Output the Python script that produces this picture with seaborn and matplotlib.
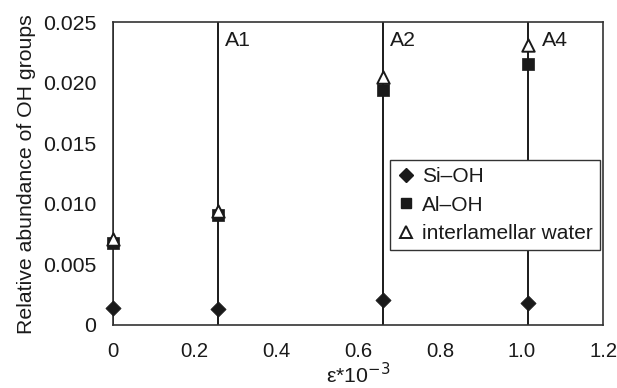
import matplotlib
matplotlib.use("Agg")
import matplotlib.pyplot as plt
import seaborn as sns
import pandas as pd
from matplotlib.lines import Line2D

# Data
strain = [0.0, 0.257, 0.66, 1.015]
sample_labels = ["", "A1", "A2", "A4"]
si_oh = [0.00138, 0.0013, 0.00206, 0.0018]
al_oh = [0.0068, 0.0091, 0.0194, 0.0216]
water = [0.0071, 0.0094, 0.0205, 0.0231]
series_names = ["Si\u2013OH", "Al\u2013OH", "interlamellar water"]
xticks = [0, 0.2, 0.4, 0.6, 0.8, 1.0, 1.2]
xtick_labels = ["0", "0.2", "0.4", "0.6", "0.8", "1.0", "1.2"]
yticks = [0, 0.005, 0.010, 0.015, 0.020, 0.025]
ytick_labels = ["0", "0.005", "0.010", "0.015", "0.020", "0.025"]

FS = 15.3
sns.set_style("white")
plt.rcParams["font.family"] = ["Liberation Sans", "DejaVu Sans"]
plt.rcParams["font.size"] = FS
plt.rcParams["text.color"] = "#1a1a1a"
plt.rcParams["axes.labelcolor"] = "#1a1a1a"
plt.rcParams["xtick.labelcolor"] = "#1a1a1a"
plt.rcParams["ytick.labelcolor"] = "#1a1a1a"

df = pd.DataFrame({
    "strain": strain * 3,
    "value": si_oh + al_oh + water,
    "series": [series_names[0]] * 4 + [series_names[1]] * 4 + [series_names[2]] * 4,
})

fig = plt.figure(figsize=(6.17, 3.88), dpi=100)
ax = fig.add_axes([0.183, 0.1624, 0.795, 0.780])

lc = "#1a1a1a"
label_offset = {"A1": 0.017, "A2": 0.017, "A4": 0.035}
for xv, lab in zip(strain, sample_labels):
    ax.axvline(xv, color=lc, lw=1.4, zorder=1)
    if lab:
        ax.text(xv + label_offset[lab], 0.0235, lab, fontsize=FS, ha="left", va="center", color=lc)

styles = {
    series_names[0]: dict(marker="D", s=60, color=lc, edgecolor=lc, linewidth=0.5),
    series_names[1]: dict(marker="s", s=65, color=lc, edgecolor=lc, linewidth=0.5),
    series_names[2]: dict(marker="^", s=80, color="white", edgecolor=lc, linewidth=1.4),
}
for name in series_names:
    sub = df[df["series"] == name]
    sns.scatterplot(data=sub, x="strain", y="value", ax=ax, zorder=3, legend=False,
                    clip_on=False, **styles[name])

ax.set_xlim(0, 1.2)
ax.set_ylim(0, 0.025)
ax.set_xticks(xticks)
ax.set_xticklabels(xtick_labels)
ax.set_yticks(yticks)
ax.set_yticklabels(ytick_labels)
ax.tick_params(axis="x", direction="in", length=7, width=1.2, color="#555555", labelsize=14.6, pad=12)
ax.tick_params(axis="y", direction="out", length=8, width=1.2, color="#555555", labelsize=FS, pad=4)
for sp in ax.spines.values():
    sp.set_color("#333333")
    sp.set_linewidth(1.2)
    sp.set_visible(True)

ax.set_xlabel("\u03b5*10$^{-3}$", fontsize=FS, labelpad=1)
ax.set_ylabel("Relative abundance of OH groups", fontsize=FS, labelpad=5)

handles = [
    Line2D([], [], ls="none", marker="D", ms=7.5, mfc=lc, mec=lc),
    Line2D([], [], ls="none", marker="s", ms=7.5, mfc=lc, mec=lc),
    Line2D([], [], ls="none", marker="^", ms=9, mfc="white", mec=lc, mew=1.4),
]
leg = ax.legend(handles, series_names, loc="upper left", bbox_to_anchor=(0.565, 0.545),
                frameon=True, fancybox=False, framealpha=1, edgecolor="#333333",
                handlelength=0.8, handletextpad=0.4, borderpad=0.35, labelspacing=0.45,
                fontsize=15, borderaxespad=0)
leg.get_frame().set_linewidth(1.0)
leg.set_zorder(5)

fig.savefig("out.png", dpi=100)
